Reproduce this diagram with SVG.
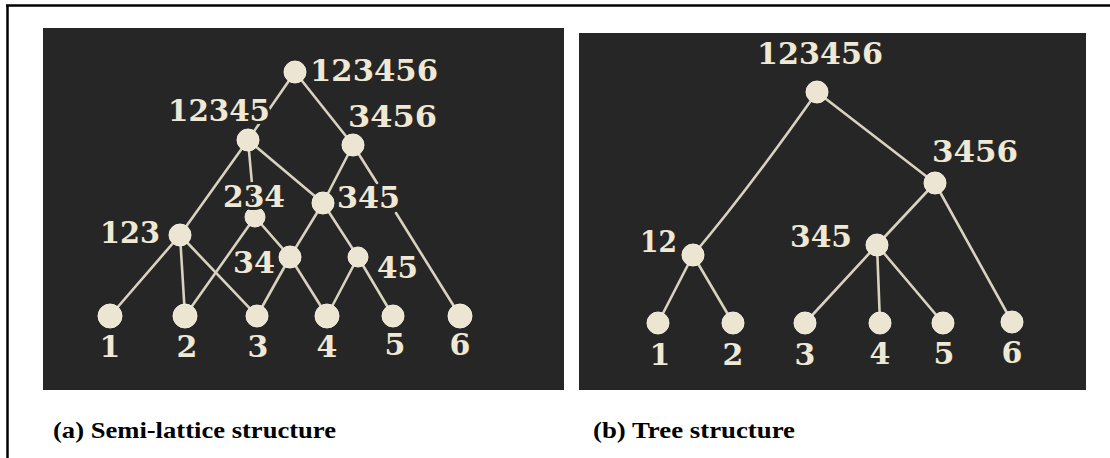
<svg xmlns="http://www.w3.org/2000/svg" width="1110" height="458" viewBox="0 0 1110 458">
<style>
.bg{fill:#262626}
.lbl{font-family:"DejaVu Serif","Liberation Serif",serif;font-weight:bold;font-size:30px;fill:#eee8d5;stroke:#262626;stroke-width:6px;paint-order:stroke;stroke-linejoin:round}
.num{text-anchor:middle}
.nd{fill:#ebe5d2;stroke:#f4efe0;stroke-width:1}
.ln{stroke:#d8d2bf;stroke-width:2.6;fill:none;stroke-linecap:round}
.cap{font-family:"Liberation Serif","Times New Roman",serif;font-weight:bold;font-size:23px;fill:#000}
</style>
<rect x="0" y="0" width="1110" height="458" fill="#fff"/>
<line x1="6" y1="5.5" x2="1110" y2="5.5" stroke="#000" stroke-width="2.5"/>
<line x1="7.5" y1="5" x2="7.5" y2="458" stroke="#000" stroke-width="2.5"/>
<rect class="bg" x="43" y="28" width="521" height="362"/>
<rect class="bg" x="579" y="33" width="507" height="357"/>

<g id="connectors-a">
<line class="ln" x1="295" y1="72" x2="248" y2="140"/>
<line class="ln" x1="295" y1="72" x2="353" y2="145"/>
<line class="ln" x1="248" y1="140" x2="180" y2="235"/>
<line class="ln" x1="248" y1="140" x2="255" y2="217"/>
<line class="ln" x1="248" y1="140" x2="323" y2="203"/>
<line class="ln" x1="353" y1="145" x2="323" y2="203"/>
<path class="ln" d="M353,145 L377,183 M396,213 L460,316"/>
<line class="ln" x1="180" y1="235" x2="110" y2="316"/>
<line class="ln" x1="180" y1="235" x2="185" y2="316"/>
<line class="ln" x1="180" y1="235" x2="257" y2="316"/>
<line class="ln" x1="255" y1="217" x2="185" y2="316"/>
<line class="ln" x1="255" y1="217" x2="290" y2="257"/>
<line class="ln" x1="323" y1="203" x2="290" y2="257"/>
<line class="ln" x1="323" y1="203" x2="358" y2="257"/>
<line class="ln" x1="290" y1="257" x2="257" y2="316"/>
<line class="ln" x1="290" y1="257" x2="327" y2="316"/>
<line class="ln" x1="358" y1="257" x2="327" y2="316"/>
<line class="ln" x1="358" y1="257" x2="393" y2="316"/>
</g>

<g id="connectors-b">
<path class="ln" d="M817,92 Q748,190 693,255"/>
<line class="ln" x1="817" y1="92" x2="935" y2="183"/>
<line class="ln" x1="693" y1="255" x2="658" y2="323"/>
<line class="ln" x1="693" y1="255" x2="733" y2="323"/>
<line class="ln" x1="935" y1="183" x2="877" y2="245"/>
<line class="ln" x1="935" y1="183" x2="1012" y2="322"/>
<line class="ln" x1="877" y1="245" x2="805" y2="323"/>
<line class="ln" x1="877" y1="245" x2="880" y2="323"/>
<line class="ln" x1="877" y1="245" x2="943" y2="323"/>
</g>

<!-- Panel (a) nodes -->
<g id="a-123456"><circle class="nd" cx="295" cy="72" r="11"/><text class="lbl" x="310" y="81" textLength="128" lengthAdjust="spacingAndGlyphs">123456</text></g>
<g id="a-12345"><circle class="nd" cx="248" cy="140" r="11"/><text class="lbl" x="168" y="121" textLength="102" lengthAdjust="spacingAndGlyphs">12345</text></g>
<g id="a-3456"><circle class="nd" cx="353" cy="145" r="11"/><text class="lbl" x="348" y="127" textLength="89" lengthAdjust="spacingAndGlyphs">3456</text></g>
<g id="a-234"><circle class="nd" cx="255" cy="217" r="10"/><text class="lbl" x="223" y="207" textLength="62" lengthAdjust="spacingAndGlyphs">234</text></g>
<g id="a-345"><circle class="nd" cx="323" cy="203" r="11"/><text class="lbl" x="337" y="208" textLength="63" lengthAdjust="spacingAndGlyphs">345</text></g>
<g id="a-123"><circle class="nd" cx="180" cy="235" r="11"/><text class="lbl" x="100" y="243" textLength="60" lengthAdjust="spacingAndGlyphs">123</text></g>
<g id="a-34"><circle class="nd" cx="290" cy="257" r="11"/><text class="lbl" x="233" y="273" textLength="42" lengthAdjust="spacingAndGlyphs">34</text></g>
<g id="a-45"><circle class="nd" cx="358" cy="257" r="10"/><text class="lbl" x="377" y="278" textLength="41" lengthAdjust="spacingAndGlyphs">45</text></g>
<g id="a-1"><circle class="nd" cx="110" cy="316" r="12"/><text class="lbl num" x="110" y="357">1</text></g>
<g id="a-2"><circle class="nd" cx="185" cy="316" r="12"/><text class="lbl num" x="187" y="357">2</text></g>
<g id="a-3"><circle class="nd" cx="257" cy="316" r="11"/><text class="lbl num" x="258" y="357">3</text></g>
<g id="a-4"><circle class="nd" cx="327" cy="316" r="12"/><text class="lbl num" x="327" y="357">4</text></g>
<g id="a-5"><circle class="nd" cx="393" cy="316" r="11"/><text class="lbl num" x="395" y="355">5</text></g>
<g id="a-6"><circle class="nd" cx="460" cy="316" r="12"/><text class="lbl num" x="460" y="355">6</text></g>

<!-- Panel (b) nodes -->
<g id="b-123456"><circle class="nd" cx="817" cy="92" r="11"/><text class="lbl" x="757" y="64" textLength="126" lengthAdjust="spacingAndGlyphs">123456</text></g>
<g id="b-12"><circle class="nd" cx="693" cy="255" r="11"/><text class="lbl" x="640" y="252" textLength="37" lengthAdjust="spacingAndGlyphs">12</text></g>
<g id="b-3456"><circle class="nd" cx="935" cy="183" r="11"/><text class="lbl" x="932" y="162" textLength="86" lengthAdjust="spacingAndGlyphs">3456</text></g>
<g id="b-345"><circle class="nd" cx="877" cy="245" r="11"/><text class="lbl" x="790" y="247" textLength="62" lengthAdjust="spacingAndGlyphs">345</text></g>
<g id="b-1"><circle class="nd" cx="658" cy="323" r="11"/><text class="lbl num" x="660" y="365">1</text></g>
<g id="b-2"><circle class="nd" cx="733" cy="323" r="11"/><text class="lbl num" x="733" y="365">2</text></g>
<g id="b-3"><circle class="nd" cx="805" cy="323" r="11"/><text class="lbl num" x="805" y="365">3</text></g>
<g id="b-4"><circle class="nd" cx="880" cy="323" r="11"/><text class="lbl num" x="880" y="364">4</text></g>
<g id="b-5"><circle class="nd" cx="943" cy="323" r="11"/><text class="lbl num" x="944" y="364">5</text></g>
<g id="b-6"><circle class="nd" cx="1012" cy="322" r="11"/><text class="lbl num" x="1012" y="363">6</text></g>

<g id="captions">
<text class="cap" x="53" y="438" textLength="283" lengthAdjust="spacingAndGlyphs">(a) Semi-lattice structure</text>
<text class="cap" x="593" y="438" textLength="202" lengthAdjust="spacingAndGlyphs">(b) Tree structure</text>
</g>
</svg>
